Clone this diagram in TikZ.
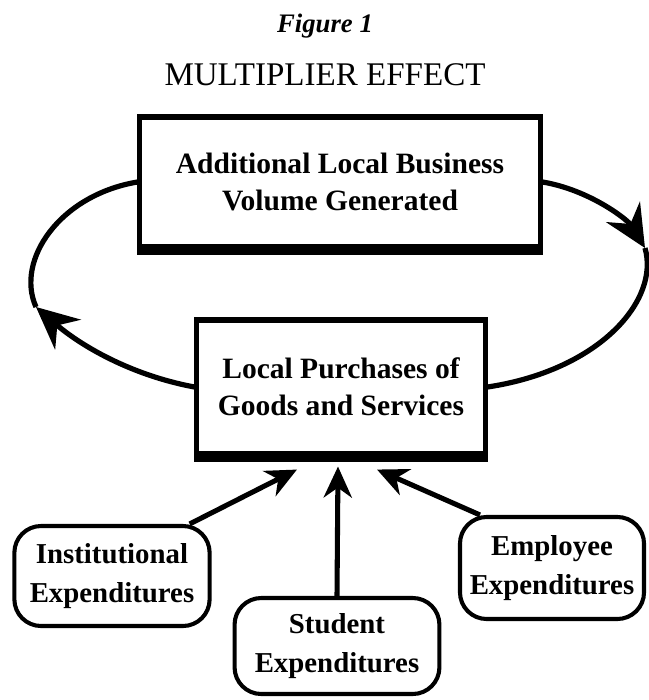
\documentclass[tikz,border=0pt]{standalone}
\usepackage{fontspec}
\setmainfont{Liberation Serif}
\usetikzlibrary{arrows.meta,calc,positioning}

\tikzset{
  sqbox/.style={draw,line width=3.6pt,align=center,inner sep=0pt,font=\bfseries\fontsize{21}{26}\selectfont},
  rndbox/.style={draw,line width=2.9pt,rounded corners=19pt,align=center,inner sep=0pt,font=\bfseries\fontsize{20.5}{28}\selectfont},
  loopline/.style={line width=3.7pt},
  bigtip/.style={-{Stealth[length=30pt,width=28pt,inset=10pt]}},
  feedtip/.style={line width=3.6pt,-{Stealth[length=22pt,width=20pt,inset=7pt]}}
}

\begin{document}
\begin{tikzpicture}[x=0.025cm,y=-0.025cm]
\useasboundingbox (0,0) rectangle (649,700);
\node (fig) at (325,26) {\bfseries\itshape\fontsize{19}{22}\selectfont Figure 1};
\node (title) at (325,75) {\fontsize{23.5}{28}\selectfont MULTIPLIER EFFECT};

% the two boxes of the loop
\node[sqbox,minimum width=10cm,minimum height=3.25cm] (volume) at (340,182) {Additional Local Business\\Volume Generated};
\node[sqbox,minimum width=7.2cm,minimum height=3.35cm] (purchases) at (341,387) {Local Purchases of\\Goods and Services};
\draw[line width=5.5pt] ([yshift=-1pt]volume.south west) -- ([yshift=-1pt]volume.south east);
\draw[line width=5.5pt] ([yshift=-1pt]purchases.south west) -- ([yshift=-1pt]purchases.south east);

% spending sources
\node[rndbox,minimum width=4.88cm,minimum height=2.5cm] (inst) at (112,576) {Institutional\\Expenditures};
\node[rndbox,minimum width=5.12cm,minimum height=2.4cm] (student) at (337,646) {Student\\Expenditures};
\node[rndbox,minimum width=4.6cm,minimum height=2.55cm] (employee) at (552,568) {Employee\\Expenditures};

% loop
\coordinate (rtip) at (645,248);
\coordinate (ltip) at (36,307);
\draw[loopline,bigtip] (volume.east) .. controls (590,190) and (628,220) .. (rtip);
\draw[loopline] (rtip) .. controls (660,300) and (600,370) .. (purchases.east);
\draw[loopline,bigtip] (purchases.west) .. controls (130,375) and (80,345) .. (ltip);
\draw[loopline] (ltip) .. controls (15,260) and (60,195) .. (volume.west);

% inflows
\coordinate (tipA) at ($(purchases.south)+(-44,13)$);
\coordinate (tipB) at ($(purchases.south)+(-3,10)$);
\coordinate (tipC) at ($(purchases.south)+(36,13)$);
\draw[feedtip] ([xshift=-0.55cm]inst.north east) -- (tipA);
\draw[feedtip] (student.north) -- (tipB);
\draw[feedtip] ([xshift=0.55cm]employee.north west) -- (tipC);
\end{tikzpicture}
\end{document}
